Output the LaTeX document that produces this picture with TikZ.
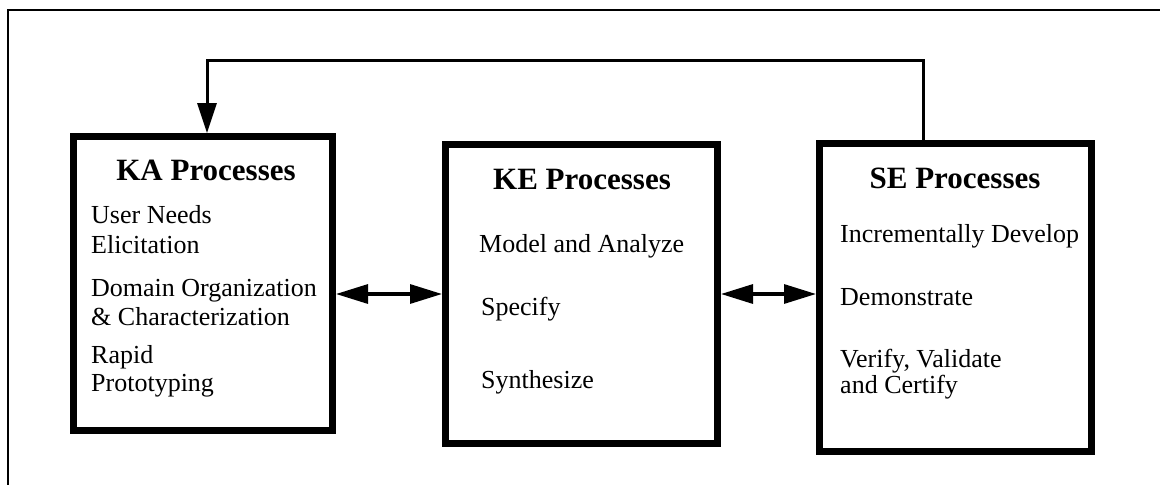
\documentclass[tikz,border=0pt]{standalone}
\usepackage{fontspec}
\setmainfont{Liberation Serif}
\usetikzlibrary{arrows.meta}
\begin{document}
\begin{tikzpicture}[x=1pt,y=-1pt,
  procbox/.style={draw, line width=7pt, rectangle, inner sep=0pt},
  ttl/.style={font=\fontsize{31}{36}\selectfont\bfseries, anchor=base, inner sep=0pt},
  item/.style={font=\fontsize{26}{30}\selectfont, anchor=base west, inner sep=0pt},
  dbl/.style={line width=3.2pt, {Triangle[length=32pt,width=19pt]}-{Triangle[length=32pt,width=19pt]}},
  fb/.style={line width=3pt, line join=miter, -{Triangle[length=30pt,width=19pt]}},
  frame/.style={line width=2pt, line join=miter}]
\useasboundingbox (0,0) rectangle (1160,485);
% outer frame (open on right and bottom)
\coordinate (frTR) at (1160,10);
\coordinate (frTL) at (8,10);
\coordinate (frBL) at (8,485);
\draw[frame] (frTR) -- (frTL) -- (frBL);
% boxes
\node[procbox, minimum width=259pt, minimum height=294pt] (ka) at (203,283.5) {};
\node[procbox, minimum width=272pt, minimum height=299pt] (ke) at (581.5,294) {};
\node[procbox, minimum width=272pt, minimum height=308pt] (se) at (955.5,297.5) {};
% titles
\node[ttl] (kat) at (206,180) {KA Processes};
\node[ttl] (ket) at (582,189) {KE Processes};
\node[ttl] (set) at (955,188) {SE Processes};
% KA items
\node[item] (ka1) at (91,223) {User Needs};
\node[item] (ka2) at (91,253) {Elicitation};
\node[item] (ka3) at (91,296) {Domain Organization};
\node[item] (ka4) at (91,325) {\& Characterization};
\node[item] (ka5) at (91,363) {Rapid};
\node[item] (ka6) at (91,391) {Prototyping};
% KE items
\node[item] (ke1) at (479,252) {Model and Analyze};
\node[item] (ke2) at (481,315) {Specify};
\node[item] (ke3) at (481,388) {Synthesize};
% SE items
\node[item] (se1) at (840,242) {Incrementally Develop};
\node[item] (se2) at (840,305) {Demonstrate};
\node[item] (se3) at (840,367) {Verify, Validate};
\node[item] (se4) at (840,393) {and Certify};
% connectors
\draw[dbl] (ka.east |- ke.west) -- (ke.west);
\draw[dbl] (ke.east) -- (se.west |- ke.east);
\coordinate (fbR) at (923,60);
\coordinate (fbL) at (207,60);
\draw[fb] (se.north -| fbR) -- (fbR) -- (fbL) -- (ka.north -| fbL);
\end{tikzpicture}
\end{document}
